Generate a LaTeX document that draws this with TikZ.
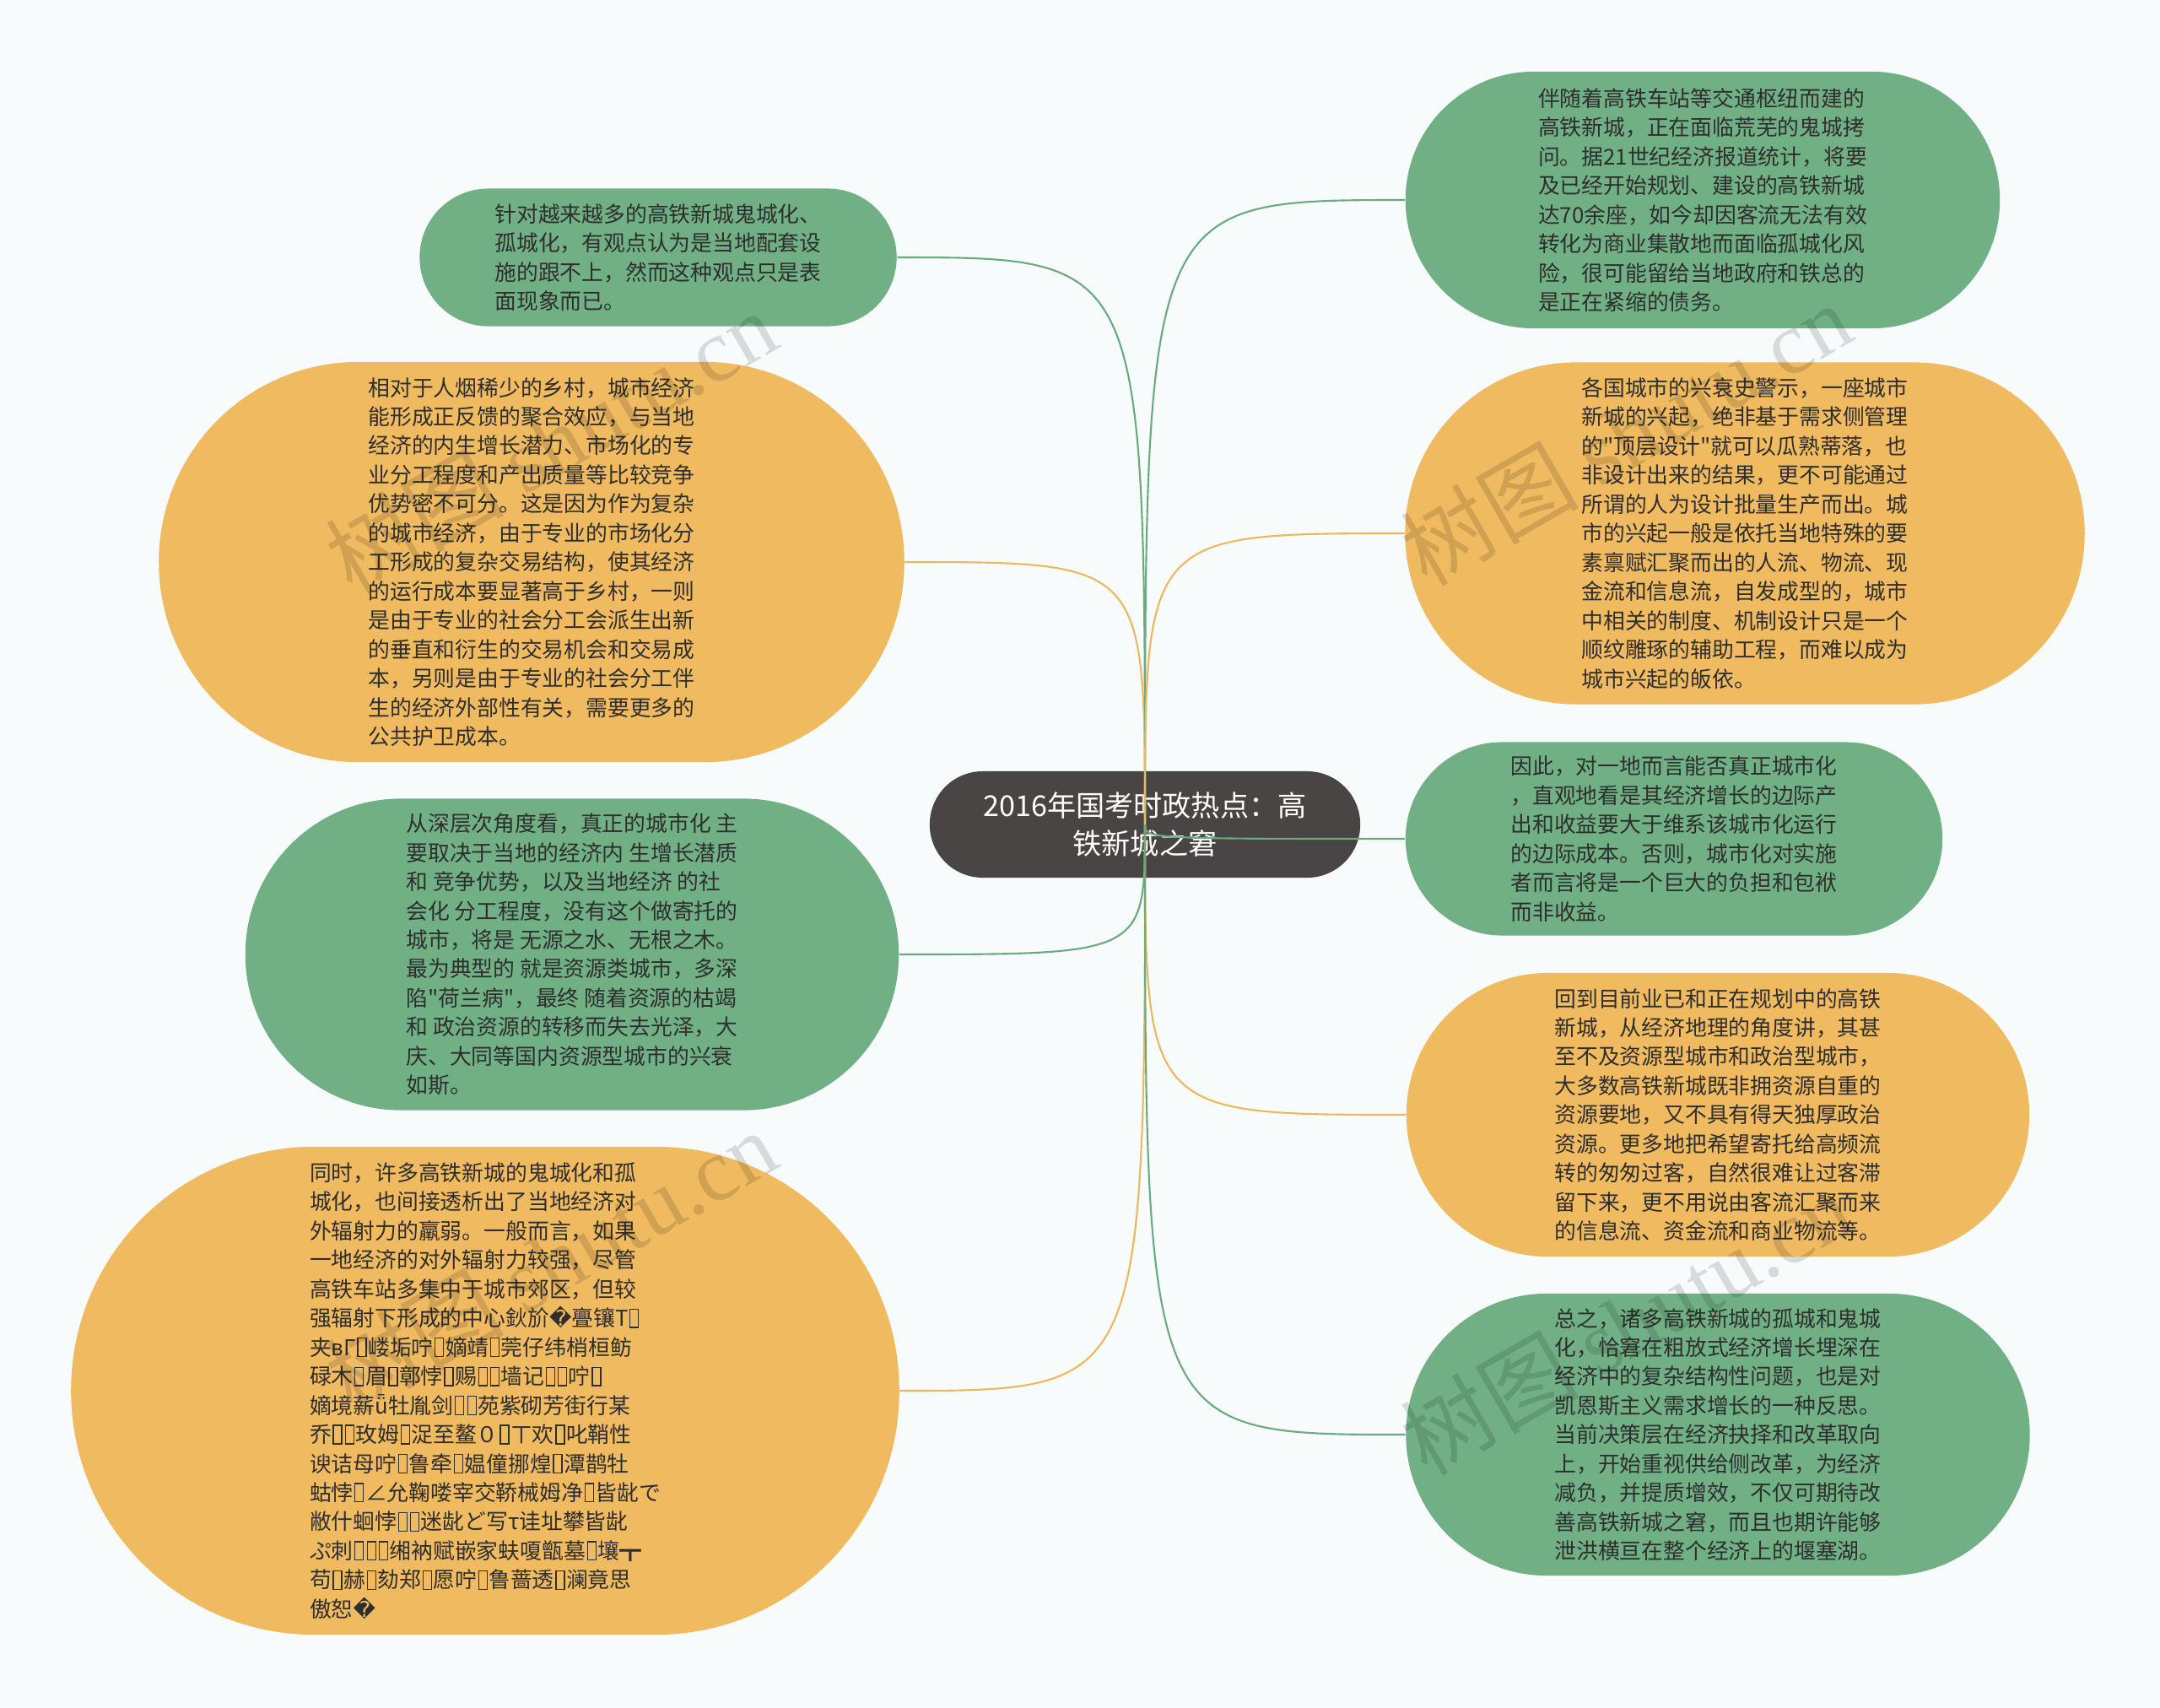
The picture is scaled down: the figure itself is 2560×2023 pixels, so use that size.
\documentclass[tikz,border=0pt]{standalone}
\usepackage{fontspec}
\setmainfont{Noto Sans CJK SC}
\newfontfamily\symfont{DejaVu Sans}
\newfontfamily\wmfont{Liberation Serif}
% plain font, no TeX mapping, for straight quotes
\font\rawquote="Noto Sans CJK SC" at 7.34pt
\definecolor{leafgreen}{HTML}{70B084}
\definecolor{leaforange}{HTML}{F0BA60}
\definecolor{rootgray}{HTML}{4A4545}
\definecolor{linkgreen}{HTML}{6AAA80}
\definecolor{linkorange}{HTML}{EBB85C}
\definecolor{bgpaper}{HTML}{F7FBFB}
\definecolor{inkdark}{HTML}{2E2E2E}
% missing glyph box and replacement mark of the garbled paragraph
\newcommand{\nd}{\hspace{0.06em}\raisebox{-0.03em}{\setlength{\fboxsep}{0pt}\setlength{\fboxrule}{0.35pt}\fbox{\rule{0pt}{0.8em}\hspace{0.34em}}}\hspace{0.06em}}
\newcommand{\rp}{{\symfont\char"FFFD}}
\newcommand{\sq}{{\rawquote "}}

\begin{document}
\begin{tikzpicture}[x=0.01cm,y=-0.01cm,
  pill/.style 2 args={minimum width=#1, minimum height=#2, rounded corners=0.499*#2},
  leaf/.style={rectangle, align=left, text=inkdark, inner sep=0pt,
    font=\fontsize{7.34pt}{9.8pt}\selectfont},
  greenleaf/.style={leaf, fill=leafgreen},
  orangeleaf/.style={leaf, fill=leaforange},
  root/.style={rectangle, align=center, text=white, fill=rootgray, inner sep=0pt,
    font=\fontsize{9.7pt}{12.8pt}\selectfont},
  greenlink/.style={draw=linkgreen, line width=0.6pt},
  orangelink/.style={draw=linkorange, line width=0.6pt},
  watermark/.style={rotate=30, text=black, opacity=0.13, inner sep=0pt,
    font=\fontsize{30pt}{30pt}\selectfont}]

  \useasboundingbox (0,0) rectangle (2560,2023);
  \fill[bgpaper] (0,0) rectangle (2560,2023);

  % centre topic
  \node[root, pill={5.10cm}{1.26cm}] (root) at (1357,977)
    {2016年国考时政热点：高\\铁新城之窘};

  % left branches
  \node[greenleaf, pill={5.65cm}{1.63cm}] (n1) at (780,305)
    {针对越来越多的高铁新城鬼城化、\\
     孤城化，有观点认为是当地配套设\\
     施的跟不上，然而这种观点只是表\\
     面现象而已。};
  \node[orangeleaf, pill={8.83cm}{4.74cm}] (n2) at (630,666)
    {相对于人烟稀少的乡村，城市经济\\
     能形成正反馈的聚合效应，与当地\\
     经济的内生增长潜力、市场化的专\\
     业分工程度和产出质量等比较竞争\\
     优势密不可分。这是因为作为复杂\\
     的城市经济，由于专业的市场化分\\
     工形成的复杂交易结构，使其经济\\
     的运行成本要显著高于乡村，一则\\
     是由于专业的社会分工会派生出新\\
     的垂直和衍生的交易机会和交易成\\
     本，另则是由于专业的社会分工伴\\
     生的经济外部性有关，需要更多的\\
     公共护卫成本。};
  \node[greenleaf, pill={7.74cm}{3.69cm}] (n3) at (678,1131)
    {从深层次角度看，真正的城市化 主\\
     要取决于当地的经济内 生增长潜质\\
     和 竞争优势，以及当地经济 的社\\
     会化 分工程度，没有这个做寄托的\\
     城市，将是 无源之水、无根之木。\\
     最为典型的 就是资源类城市，多深\\
     陷\sq 荷兰病\sq ，最终 随着资源的枯竭\\
     和 政治资源的转移而失去光泽，大\\
     庆、大同等国内资源型城市的兴衰\\
     如斯。};
  \node[orangeleaf, pill={9.81cm}{5.78cm}] (n4) at (575,1648)
    {同时，许多高铁新城的鬼城化和孤\\
     城化，也间接透析出了当地经济对\\
     外辐射力的羸弱。一般而言，如果\\
     一地经济的对外辐射力较强，尽管\\
     高铁车站多集中于城市郊区，但较\\
     强辐射下形成的中心鈥斺\rp 亹镶T\nd{}\\
     夹вГ\nd{}嵝垢咛\nd{}嫡靖\nd{}莞仔纬梢桓鲂\\
     碌木\nd{}眉\nd{}鄣悖\nd{}赐\nd{}\nd{}墙记\nd{}\nd{}咛\nd{}\\
     嫡境薪ǖ牡胤剑\nd{}\nd{}苑紫砌芳街行某\\
     乔\nd{}\nd{}玫姆\nd{}浞至鳌０\nd{}ㄒ欢\nd{}叱鞘性\\
     谀诘母咛\nd{}鲁牵\nd{}媪僮挪煌\nd{}潭鹊牡\\
     蛄悖\nd{}∠允鞠喽宰交鞒械姆净\nd{}皆龀で\\
     敝什蛔悖\nd{}\nd{}迷龀ど写τ诖址攀皆龀\\
     ぷ刺\nd{}\nd{}\nd{}缃衲赋嵌家蚨嗄甑墓\nd{}壤┳\\
     苟\nd{}赫\nd{}劾郑\nd{}愿咛\nd{}鲁蔷透\nd{}澜竟思\\
     傲恕\rp};

  % right branches
  \node[greenleaf, pill={7.04cm}{3.04cm}] (n5) at (2018,237)
    {伴随着高铁车站等交通枢纽而建的\\
     高铁新城，正在面临荒芜的鬼城拷\\
     问。据21世纪经济报道统计，将要\\
     及已经开始规划、建设的高铁新城\\
     达70余座，如今却因客流无法有效\\
     转化为商业集散地而面临孤城化风\\
     险，很可能留给当地政府和铁总的\\
     是正在紧缩的债务。};
  \node[orangeleaf, pill={8.05cm}{4.05cm}] (n6) at (2068,632)
    {各国城市的兴衰史警示，一座城市\\
     新城的兴起，绝非基于需求侧管理\\
     的\sq 顶层设计\sq 就可以瓜熟蒂落，也\\
     非设计出来的结果，更不可能通过\\
     所谓的人为设计批量生产而出。城\\
     市的兴起一般是依托当地特殊的要\\
     素禀赋汇聚而出的人流、物流、现\\
     金流和信息流，自发成型的，城市\\
     中相关的制度、机制设计只是一个\\
     顺纹雕琢的辅助工程，而难以成为\\
     城市兴起的皈依。};
  \node[greenleaf, pill={6.36cm}{2.29cm}] (n7) at (1984,994)
    {因此，对一地而言能否真正城市化\\
     ，直观地看是其经济增长的边际产\\
     出和收益要大于维系该城市化运行\\
     的边际成本。否则，城市化对实施\\
     者而言将是一个巨大的负担和包袱\\
     而非收益。};
  \node[orangeleaf, pill={7.38cm}{3.36cm}] (n8) at (2036,1321)
    {回到目前业已和正在规划中的高铁\\
     新城，从经济地理的角度讲，其甚\\
     至不及资源型城市和政治型城市，\\
     大多数高铁新城既非拥资源自重的\\
     资源要地，又不具有得天独厚政治\\
     资源。更多地把希望寄托给高频流\\
     转的匆匆过客，自然很难让过客滞\\
     留下来，更不用说由客流汇聚而来\\
     的信息流、资金流和商业物流等。};
  \node[greenleaf, pill={7.39cm}{3.34cm}] (n9) at (2036,1700)
    {总之，诸多高铁新城的孤城和鬼城\\
     化，恰窘在粗放式经济增长埋深在\\
     经济中的复杂结构性问题，也是对\\
     凯恩斯主义需求增长的一种反思。\\
     当前决策层在经济抉择和改革取向\\
     上，开始重视供给侧改革，为经济\\
     减负，并提质增效，不仅可期待改\\
     善高铁新城之窘，而且也期许能够\\
     泄洪横亘在整个经济上的堰塞湖。};

  % connectors
  \draw[greenlink] (root.center) .. controls (root.center |- n1.east) .. (n1.east);
  \draw[orangelink] (root.center) .. controls (root.center |- n2.east) .. (n2.east);
  \draw[greenlink] (root.center) .. controls (root.center |- n3.east) .. (n3.east);
  \draw[orangelink] (root.center) .. controls (root.center |- n4.east) .. (n4.east);
  \draw[greenlink] (root.center) .. controls (root.center |- n5.west) .. (n5.west);
  \draw[orangelink] (root.center) .. controls (root.center |- n6.west) .. (n6.west);
  \draw[greenlink] (root.center) .. controls (root.center |- n7.west) .. (n7.west);
  \draw[orangelink] (root.center) .. controls (root.center |- n8.west) .. (n8.west);
  \draw[greenlink] (root.center) .. controls (root.center |- n9.west) .. (n9.west);

  % watermark
  \node[watermark] (wm1) at (653,523) {树图 {\wmfont shutu.cn}};
  \node[watermark] (wm2) at (1927,514) {树图 {\wmfont shutu.cn}};
  \node[watermark] (wm3) at (653,1494) {树图 {\wmfont shutu.cn}};
  \node[watermark] (wm4) at (1927,1568) {树图 {\wmfont shutu.cn}};
\end{tikzpicture}
\end{document}
